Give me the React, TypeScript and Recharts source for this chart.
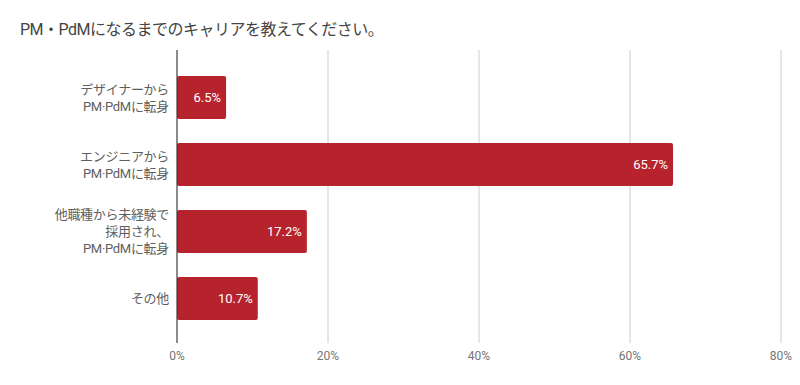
import { Bar, BarChart, CartesianGrid, LabelList, XAxis, YAxis } from "recharts";

const CATEGORIES = [
  "デザイナーから\nPM·PdMに転身",
  "エンジニアから\nPM·PdMに転身",
  "他職種から未経験で\n採用され、\nPM·PdMに転身",
  "その他",
];
const SHARES = [6.5, 65.7, 17.2, 10.7];
const X_TICKS = [0, 20, 40, 60, 80];

const FONT = "Roboto, 'Noto Sans CJK JP', sans-serif";
const BAR_RED = "#b7232c";

const data = CATEGORIES.map((name, i) => ({ name, share: SHARES[i] }));

function CategoryTick({ x, y, payload }: any) {
  const lines = String(payload.value).split("\n");
  const lineH = 17;
  const startY = y - ((lines.length - 1) * lineH) / 2;
  return (
    <text x={x} y={startY} textAnchor="end" fill="#5f5f5f" fontSize={13} fontFamily={FONT} letterSpacing={-0.3}>
      {lines.map((ln, i) => (
        <tspan key={i} x={x} y={startY + i * lineH} dy="0.35em">
          {ln}
        </tspan>
      ))}
    </text>
  );
}

export default function App() {
  return (
    <div style={{ position: "absolute", left: 0, top: 0, width: 800, height: 385, background: "#fff", fontFamily: FONT }}>
      <div
        style={{
          position: "absolute",
          left: 20,
          top: 19,
          fontSize: 16,
          color: "#444",
          lineHeight: "22px",
          letterSpacing: -0.5,
        }}
      >
        PM・PdMになるまでのキャリアを教えてください。
      </div>
      <BarChart
        width={800}
        height={385}
        data={data}
        layout="vertical"
        margin={{ top: 50, right: 19, left: 0, bottom: 0 }}
      >
        <CartesianGrid horizontal={false} stroke="#cccccc" />
        <XAxis
          type="number"
          domain={[0, 80]}
          ticks={X_TICKS}
          tickFormatter={(v) => `${v}%`}
          axisLine={false}
          tickLine={false}
          height={42}
          tick={{ fill: "#757575", fontSize: 12, fontFamily: FONT }}
        />
        <YAxis
          type="category"
          dataKey="name"
          width={177}
          padding={{ top: 14, bottom: 11 }}
          axisLine={{ stroke: "#333333", strokeWidth: 1 }}
          tickLine={false}
          tick={<CategoryTick />}
          tickMargin={2}
          interval={0}
        />
        <Bar dataKey="share" fill={BAR_RED} barSize={43} radius={2} isAnimationActive={false}>
          <LabelList
            dataKey="share"
            position="insideRight"
            offset={5}
            fill="#ffffff"
            fontSize={13}
            fontFamily={FONT}
            formatter={(v: any) => `${Number(v).toFixed(1)}%`}
          />
        </Bar>
      </BarChart>
    </div>
  );
}
